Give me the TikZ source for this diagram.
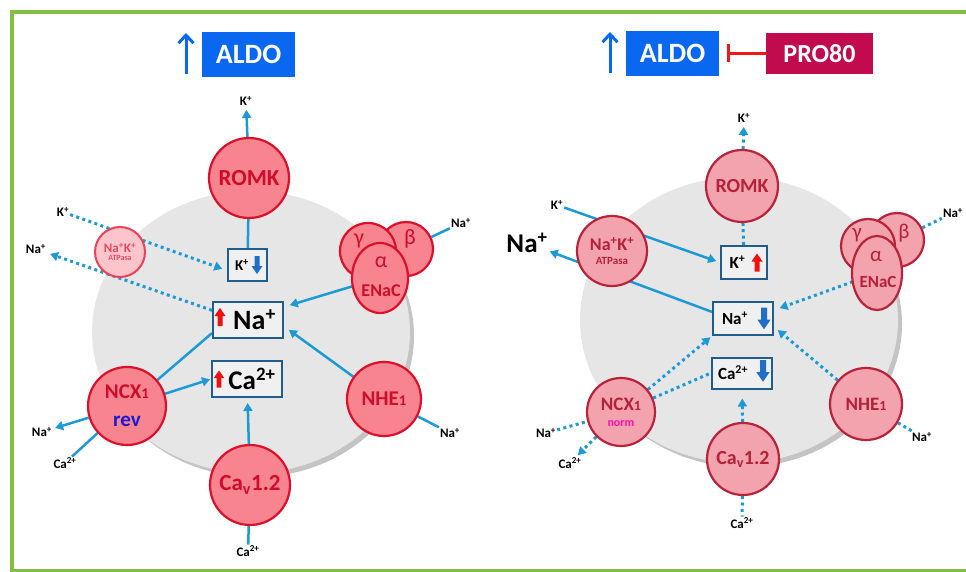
\documentclass[tikz,border=0pt]{standalone}
\usepackage{fontspec}
\setmainfont{Carlito}
\usetikzlibrary{arrows.meta,shapes.geometric}
\pgfdeclarelayer{bgcell}
\pgfdeclarelayer{bglines}
\pgfsetlayers{bgcell,bglines,main}
\definecolor{framegreen}{HTML}{84BF41}
\definecolor{flowblue}{HTML}{1D9AD6}
\definecolor{boxblue}{HTML}{1F5D8C}
\definecolor{boxfill}{HTML}{F0F0F0}
\definecolor{aldoblue}{HTML}{0A68F0}
\definecolor{prored}{HTML}{C20A4E}
\definecolor{inhred}{HTML}{F01818}
\definecolor{cellgrey}{HTML}{E6E6E6}
\definecolor{shadowgrey}{HTML}{C4C4C4}
\definecolor{chLf}{HTML}{F7848F}
\definecolor{chLb}{HTML}{DE0F2A}
\definecolor{chLt}{HTML}{CF0D2B}
\definecolor{chRf}{HTML}{F3A3AD}
\definecolor{chRb}{HTML}{B8233B}
\definecolor{chRt}{HTML}{B5213A}
\definecolor{nakf}{HTML}{FCC4CB}
\definecolor{nakb}{HTML}{EE4058}
\definecolor{nakt}{HTML}{E84862}
\definecolor{revblue}{HTML}{1B1BD0}
\definecolor{normpink}{HTML}{FF10B0}
\definecolor{uparred}{HTML}{F01010}
\definecolor{dnarblue}{HTML}{1F6FC8}
\newcommand\fsz[1]{\fontsize{#1}{#1}\selectfont}
\newcommand\fatup[3][1]{\fill[#3,shift={(#2)},scale=#1] (-2.5,9) -- (-2.5,-1) -- (-5.5,-1) -- (0,-9) -- (5.5,-1) -- (2.5,-1) -- (2.5,9) -- cycle;}
\newcommand\fatdn[3][1]{\fill[#3,shift={(#2)},xscale=#1,yscale=-#1] (-2.5,9) -- (-2.5,-1) -- (-5.5,-1) -- (0,-9) -- (5.5,-1) -- (2.5,-1) -- (2.5,9) -- cycle;}
\tikzset{
  flow/.style={draw=flowblue,line width=2.5pt},
  dots/.style={draw=flowblue,line width=3pt,dash pattern=on 3pt off 3.4pt},
  tip/.style={-{Triangle[length=8pt,width=9pt]}},
  lbl/.style={font=\fsz{13}\bfseries,inner sep=1pt,text=black},
  ionbox/.style={draw=boxblue,line width=2pt,fill=boxfill,inner sep=0pt,text=black},
  chL/.style={circle,draw=chLb,fill=chLf,line width=2.2pt,text=chLt,inner sep=0pt,align=center},
  chR/.style={circle,draw=chRb,fill=chRf,line width=2.2pt,text=chRt,inner sep=0pt,align=center},
  elL/.style={ellipse,draw=chLb,fill=chLf,line width=2.2pt,inner sep=0pt},
  elR/.style={ellipse,draw=chRb,fill=chRf,line width=2.2pt,inner sep=0pt},
  gkL/.style={text=chLt,inner sep=0pt,font=\fsz{22}},
  gkR/.style={text=chRt,inner sep=0pt,font=\fsz{21}},
  aldobox/.style={fill=aldoblue,text=white,font=\fsz{28}\bfseries,minimum width=93pt,minimum height=45pt,inner sep=0pt},
  probox/.style={fill=prored,text=white,font=\fsz{26}\bfseries,minimum width=107pt,minimum height=41pt,inner sep=0pt},
  uparrow/.style={draw=aldoblue,line width=3pt,-{Straight Barb[length=8pt,width=15pt,line width=3pt]}},
}
\begin{document}
\begin{tikzpicture}[x=1pt,y=-1pt]
\useasboundingbox (0,0) rectangle (966,572);

% ---------- background and cells ----------
\begin{pgfonlayer}{bgcell}
\fill[white] (0,0) rectangle (966,572);
\fill[shadowgrey] (255,336) ellipse [x radius=159,y radius=141];
\fill[cellgrey] (251,332) ellipse [x radius=159,y radius=141];
\fill[shadowgrey] (743,324) ellipse [x radius=159,y radius=143];
\fill[cellgrey] (739,320) ellipse [x radius=159,y radius=143];
\end{pgfonlayer}
\begin{scope}
\clip (0,0) rectangle (966,572);
\draw[framegreen,line width=4pt] (12,12) rectangle (990,571);
\end{scope}

% ================= LEFT PANEL =================
\coordinate (upL1) at (186,74);
\coordinate (upL2) at (186,33);
\draw[uparrow] (upL1) -- (upL2);
\node[aldobox] (aldoL) at (248.5,54.5) {ALDO};

\node[chL,minimum size=80pt,font=\fsz{23}\bfseries] (romkL) at (249,178) {ROMK};
\node[lbl] (kTL) at (246,101) {K\textsuperscript{+}};
\node[ionbox,minimum width=39pt,minimum height=32pt,font=\fsz{15}\bfseries] (kbL) at (247.5,265) {K\textsuperscript{+}\hspace*{11pt}};
\node[ionbox,minimum width=70pt,minimum height=36pt,font=\fsz{28}\bfseries] (naL) at (248,320) {\hspace*{13pt}Na\textsuperscript{+}};
\node[ionbox,minimum width=70pt,minimum height=36pt,font=\fsz{27}\bfseries] (caL) at (247,379) {\hspace*{10pt}Ca\textsuperscript{2+}};
\fatdn{[xshift=-11pt]kbL.east}{dnarblue}
\fatup{[xshift=8pt,yshift=3pt]naL.west}{uparred}
\fatup[0.95]{[xshift=8pt]caL.west}{uparred}

\node[circle,draw=nakb,fill=nakf,line width=2pt,text=nakt,inner sep=0pt,minimum size=50pt,align=center,font=\fsz{13}\bfseries] (nakL) at (120,252) {Na\textsuperscript{+}K\textsuperscript{+}\\[-5pt]{\fsz{8}ATPasa}};
\node[lbl] (kOL) at (63,212) {K\textsuperscript{+}};
\node[lbl] (naOL) at (36,249) {Na\textsuperscript{+}};

\node[chL,minimum size=54pt] (enbL) at (406,249) {};
\node[chL,minimum size=56pt] (engL) at (368,251) {};
\node[elL,minimum width=56pt,minimum height=70pt] (enaL) at (380,278) {};
\node[gkL] (gamL) at (359,241) {γ};
\node[gkL] (betL) at (410,239) {β};
\node[gkL] (alpL) at (381,262) {α};
\node[text=chLt,inner sep=0pt,font=\fsz{18}\bfseries] (encL) at (381,291) {ENaC};
\node[lbl] (naEL) at (461,223) {Na\textsuperscript{+}};

\node[chL,minimum size=74pt,font=\fsz{21}\bfseries] (nheL) at (384,399) {NHE{\fsz{15}1}};
\node[lbl] (naNL) at (450,433) {Na\textsuperscript{+}};

\node[chL,minimum size=78pt,font=\fsz{21}\bfseries] (ncxL) at (127,406) {NCX{\fsz{15}1}\\[7pt]{\color{revblue}\fsz{21}rev}};
\node[lbl] (naXL) at (42,432) {Na\textsuperscript{+}};
\node[lbl] (caXL) at (65,463) {Ca\textsuperscript{2+}};

\node[chL,minimum size=80pt,font=\fsz{23}\bfseries] (cavL) at (250,485) {Ca\textsubscript{v}1.2};
\node[lbl] (caBL) at (248,551) {Ca\textsuperscript{2+}};

\begin{pgfonlayer}{bglines}
\draw[flow,tip,shorten >=3pt] (romkL) -- (kTL);
\draw[flow] (kbL) -- (romkL);
\draw[dots,tip,shorten >=5pt] (kOL) -- (kbL.195);
\draw[dots,tip,shorten >=3pt] (naL.165) -- (naOL);
\draw[flow] (enbL) -- (naEL);
\draw[flow,tip,shorten >=6pt] (enaL.center) -- (naL.20);
\draw[flow,tip,shorten >=6pt] (nheL) -- (naL.-10);
\draw[flow] (nheL) -- (naNL);
\draw[flow] (ncxL) -- (naL.200);
\draw[flow,tip,shorten >=1pt] (ncxL) -- (caL.west);
\draw[flow,tip,shorten >=2pt] (ncxL) -- (naXL);
\draw[flow] (caXL) -- (ncxL);
\draw[flow,tip,shorten >=5pt] (cavL) -- (caL);
\draw[flow] (cavL) -- (caBL);
\end{pgfonlayer}

% ================= RIGHT PANEL =================
\coordinate (upR1) at (610,73);
\coordinate (upR2) at (610,32);
\draw[uparrow] (upR1) -- (upR2);
\node[aldobox] (aldoR) at (672.5,53.5) {ALDO};
\node[probox] (proR) at (819.5,53.5) {PRO80};
\draw[inhred,line width=2.5pt,-{Bar[width=18pt,line width=3pt]},shorten >=8pt] (proR) -- (aldoR);

\node[chR,minimum size=72pt,font=\fsz{20}\bfseries] (romkR) at (742,186) {ROMK};
\node[lbl] (kTR) at (744,118) {K\textsuperscript{+}};
\node[ionbox,minimum width=46pt,minimum height=33pt,font=\fsz{17}\bfseries] (kbR) at (744,262.5) {K\textsuperscript{+}\hspace*{13pt}};
\node[ionbox,minimum width=60pt,minimum height=33pt,font=\fsz{17}\bfseries] (naR) at (743,318.5) {Na\textsuperscript{+}\hspace*{16pt}};
\node[ionbox,minimum width=60pt,minimum height=31pt,font=\fsz{17}\bfseries] (caR) at (742,373) {Ca\textsuperscript{2+}\hspace*{18pt}};
\fatup{[xshift=-11pt]kbR.east}{uparred}
\fatdn[1.2]{[xshift=-10pt]naR.east}{dnarblue}
\fatdn[1.2]{[xshift=-10pt,yshift=2pt]caR.east}{dnarblue}

\node[chR,minimum size=70pt,align=center,font=\fsz{18}\bfseries] (nakR) at (612,251) {Na\textsuperscript{+}K\textsuperscript{+}\\[-4pt]{\fsz{11}ATPasa}};
\node[lbl] (kOR) at (557,205) {K\textsuperscript{+}};
\node[inner sep=1pt,font=\fsz{27}\bfseries] (naBigR) at (527,243) {Na\textsuperscript{+}};

\node[chR,minimum size=54pt] (enbR) at (897,240) {};
\node[chR,minimum size=54pt] (engR) at (868,246) {};
\node[elR,minimum width=50pt,minimum height=74pt] (enaR) at (877,273) {};
\node[gkR] (gamR) at (857,235) {γ};
\node[gkR] (betR) at (904,233) {β};
\node[gkR] (alpR) at (876,256) {α};
\node[text=chRt,inner sep=0pt,font=\fsz{17}\bfseries] (encR) at (878,282) {ENaC};
\node[lbl] (naER) at (953,213) {Na\textsuperscript{+}};

\node[chR,minimum size=72pt,font=\fsz{19}\bfseries] (nheR) at (866,404) {NHE{\fsz{14}1}};
\node[lbl] (naNR) at (922,437) {Na\textsuperscript{+}};

\node[chR,minimum size=68pt,font=\fsz{19}\bfseries] (ncxR) at (621,412) {NCX{\fsz{14}1}\\[-3pt]{\color{normpink}\fsz{12}norm}};
\node[lbl] (naXR) at (546,433) {Na\textsuperscript{+}};
\node[lbl] (caXR) at (570,463) {Ca\textsuperscript{2+}};

\node[chR,minimum size=72pt,font=\fsz{20}\bfseries] (cavR) at (743,459) {Ca\textsubscript{v}1.2};
\node[lbl] (caBR) at (742,523) {Ca\textsuperscript{2+}};

\begin{pgfonlayer}{bglines}
\draw[dots,tip,shorten >=3pt] (romkR) -- (kTR);
\draw[dots] (kbR) -- (romkR);
\draw[flow,tip,shorten >=4pt] (kOR) -- (kbR.west);
\draw[flow,tip,shorten >=1pt] (naR.168) -- (naBigR);
\draw[dots] (enbR) -- (naER);
\draw[dots,tip,shorten >=6pt] (enaR.center) -- (naR.15);
\draw[dots,tip,shorten >=5pt] (nheR) -- (naR.-15);
\draw[dots] (nheR) -- (naNR);
\draw[dots,tip,shorten >=2pt] (ncxR) -- (naR.south west);
\draw[dots] (ncxR) -- (caR.west);
\draw[dots] (naXR) -- (ncxR);
\draw[dots,tip,shorten >=2pt] (ncxR) -- (caXR);
\draw[dots,tip,shorten >=9pt] (cavR) -- (caR);
\draw[dots] (cavR) -- (caBR);
\end{pgfonlayer}
\end{tikzpicture}
\end{document}
